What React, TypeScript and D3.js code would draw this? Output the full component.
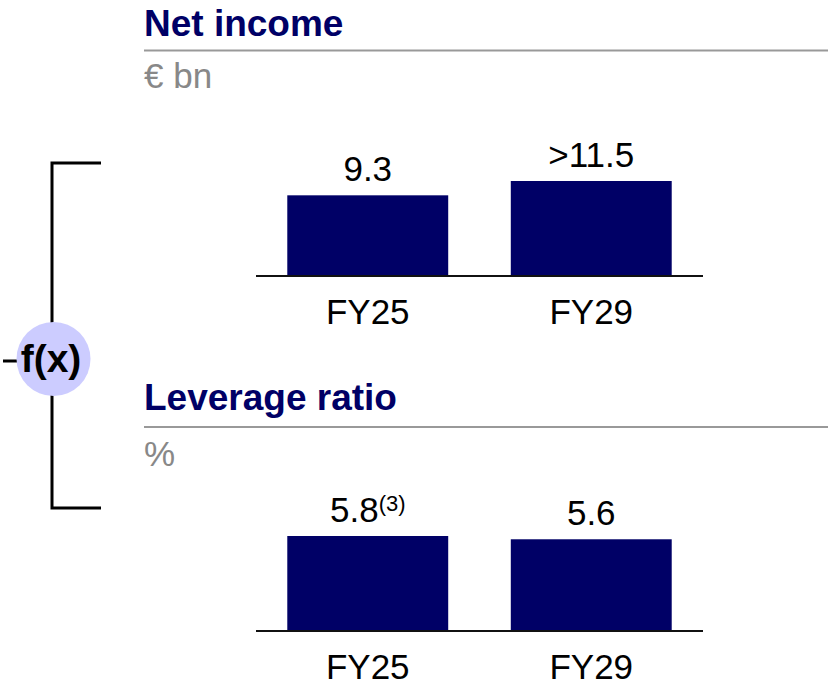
import React, { useEffect, useRef } from 'react'

import * as d3 from 'd3'

const categories = ['FY25', 'FY29']
const netIncome = [9.3, 11.5]
const netIncomeLabels = ['9.3', '>11.5']
const leverage = [5.8, 5.6]
const leverageLabels = ['5.8', '5.6']
const leverageNotes = ['(3)', '']

const NAVY = '#000066'
const FONT = 'Liberation Sans, Arial, sans-serif'

const App = () => {
  const svgRef = useRef(null)

  useEffect(() => {
    if (!svgRef.current) return
    const svg = d3.select(svgRef.current)
    svg.selectAll('*').remove()
    const width = 828
    const height = 688
    svg.attr('width', width).attr('height', height)

    const x = d3
      .scaleBand()
      .domain(categories)
      .range([256, 703])
      .paddingInner(0.28)
      .paddingOuter(0.14)

    const panel = (
      title: string,
      unit: string,
      titleY: number,
      ruleY: number,
      unitY: number,
      baseY: number,
      values: number[],
      labels: string[],
      notes: string[],
      y: d3.ScaleLinear<number, number>
    ) => {
      const g = svg.append('g')
      g.append('text')
        .attr('x', 144)
        .attr('y', titleY)
        .attr('font-family', FONT)
        .attr('font-weight', 'bold')
        .attr('font-size', 37)
        .attr('fill', NAVY)
        .text(title)
      g.append('line')
        .attr('x1', 144)
        .attr('x2', width)
        .attr('y1', ruleY)
        .attr('y2', ruleY)
        .attr('stroke', '#999')
        .attr('stroke-width', 2)
      g.append('text')
        .attr('x', 144)
        .attr('y', unitY)
        .attr('font-family', FONT)
        .attr('font-size', 35)
        .attr('fill', '#888')
        .text(unit)

      g.selectAll('rect.bar')
        .data(values)
        .join('rect')
        .attr('class', 'bar')
        .attr('x', (_, i) => x(categories[i]) as number)
        .attr('width', x.bandwidth())
        .attr('y', (d) => y(d))
        .attr('height', (d) => baseY - y(d))
        .attr('fill', NAVY)

      g.append('line')
        .attr('x1', x.range()[0])
        .attr('x2', x.range()[1])
        .attr('y1', baseY)
        .attr('y2', baseY)
        .attr('stroke', '#111')
        .attr('stroke-width', 2)

      const lbl = g
        .selectAll('text.val')
        .data(values)
        .join('text')
        .attr('class', 'val')
        .attr('x', (_, i) => (x(categories[i]) as number) + x.bandwidth() / 2)
        .attr('y', (d) => y(d) - 14)
        .attr('text-anchor', 'middle')
        .attr('font-family', FONT)
        .attr('font-size', 35)
        .attr('fill', '#000')
      lbl.append('tspan').text((_, i) => labels[i])
      lbl
        .filter((_, i) => notes[i] !== '')
        .append('tspan')
        .attr('dy', -11)
        .attr('font-size', 22)
        .text((_, i) => notes[i])

      g.selectAll('text.cat')
        .data(categories)
        .join('text')
        .attr('class', 'cat')
        .attr('x', (d) => (x(d) as number) + x.bandwidth() / 2)
        .attr('y', baseY + 48)
        .attr('text-anchor', 'middle')
        .attr('font-family', FONT)
        .attr('font-size', 35)
        .attr('fill', '#000')
        .text((d) => d)
    }

    // top chart: bar heights in the source are not zero-based
    const yTop = d3.scaleLinear().domain([-3.1, 11.5]).range([276, 181])
    panel('Net income', '€ bn', 36, 50.5, 88, 276, netIncome, netIncomeLabels, ['', ''], yTop)

    const yBottom = d3.scaleLinear().domain([0, 5.8]).range([631, 536])
    panel('Leverage ratio', '%', 410, 427, 466, 631, leverage, leverageLabels, leverageNotes, yBottom)

    // bracket with f(x) bubble
    svg
      .append('path')
      .attr('d', 'M101,163 H52 V508 H101')
      .attr('fill', 'none')
      .attr('stroke', '#000')
      .attr('stroke-width', 3)
    svg
      .append('line')
      .attr('x1', 3)
      .attr('x2', 20)
      .attr('y1', 361)
      .attr('y2', 361)
      .attr('stroke', '#000')
      .attr('stroke-width', 3)
    svg
      .append('circle')
      .attr('cx', 53.5)
      .attr('cy', 359)
      .attr('r', 37)
      .attr('fill', '#ccccff')
    svg
      .append('text')
      .attr('x', 51)
      .attr('y', 372)
      .attr('text-anchor', 'middle')
      .attr('font-family', FONT)
      .attr('font-weight', 'bold')
      .attr('font-size', 39)
      .attr('fill', '#000')
      .text('f(x)')
  }, [])

  return <svg ref={svgRef} style={{ position: 'absolute', left: 0, top: 0 }}></svg>
}

export default App
